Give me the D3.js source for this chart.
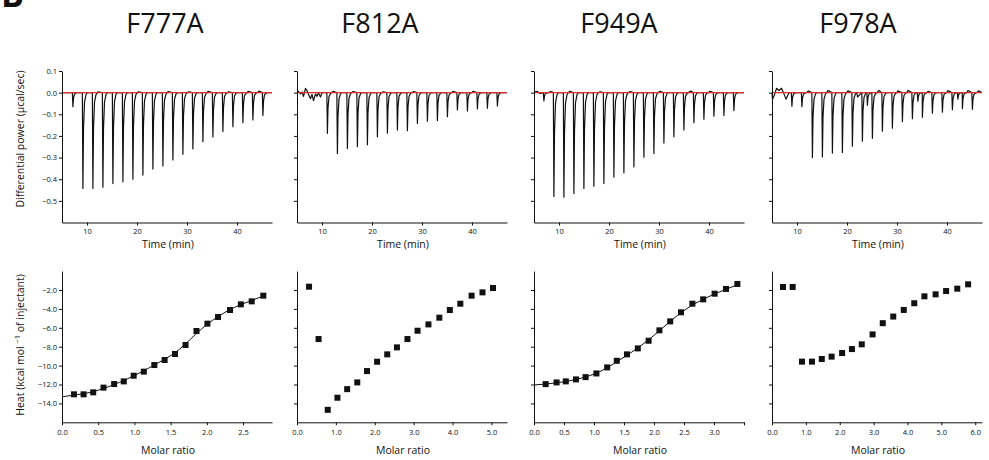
<!DOCTYPE html>
<html>
<head>
<meta charset="utf-8">
<script src="https://cdn.jsdelivr.net/npm/d3@7"></script>
<style>
  body { margin: 0; background: #fff; }
  svg { display: block; }
  text { font-family: 'Open Sans', sans-serif; fill: #111; }
</style>
</head>
<body>
<div id="chart"></div>
<script>
// ---- data ----
const titles = [ 'F777A', 'F812A', 'F949A', 'F978A' ];

const timeTicks = [ 10, 20, 30, 40 ];
const powerTicks = [ 0.1, 0.0, -0.1, -0.2, -0.3, -0.4, -0.5 ];
const heatTicks = [ -2, -4, -6, -8, -10, -12, -14 ];
const ratioTicks = [
  [ 0, 0.5, 1, 1.5, 2, 2.5 ],
  [ 0, 1, 2, 3, 4, 5 ],
  [ 0, 0.5, 1, 1.5, 2, 2.5, 3, 3.5 ],
  [ 0, 1, 2, 3, 4, 5, 6 ]
];
const ratioUnlabeled = [ [], [], [ 3.5 ], [] ];
const ratioMax = [ 2.9, 5.4, 3.5, 6.2 ];

// injection peaks: [time (min), minimum (µcal/sec)]
const peaksF777A = [ [7.1,-0.065],[9.1,-0.443],[11.1,-0.443],[13.1,-0.437],[15.1,-0.420],[17.1,-0.412],
  [19.1,-0.400],[21.1,-0.381],[23.1,-0.353],[25.1,-0.339],[27.1,-0.311],[29.1,-0.285],[31.1,-0.260],
  [33.1,-0.227],[35.1,-0.205],[37.1,-0.179],[39.1,-0.157],[41.1,-0.139],[43.1,-0.126],[45.1,-0.106] ];
const peaksF812A = [ [11,-0.188],[13,-0.281],[15,-0.258],[17,-0.250],[19,-0.241],[21,-0.204],[23,-0.187],
  [25,-0.173],[27,-0.176],[29,-0.142],[31,-0.132],[33,-0.129],[35,-0.111],[37,-0.080],[39,-0.085],
  [41,-0.075],[43,-0.072],[45,-0.062] ];
const peaksF949A = [ [6.9,-0.038],[8.9,-0.480],[10.9,-0.483],[12.9,-0.466],[14.9,-0.443],[16.9,-0.432],
  [18.9,-0.420],[20.9,-0.390],[22.9,-0.370],[24.9,-0.343],[26.9,-0.298],[28.9,-0.281],[30.9,-0.233],
  [32.9,-0.204],[34.9,-0.173],[36.9,-0.139],[38.9,-0.123],[40.9,-0.109],[42.9,-0.105],[44.9,-0.083] ];
const peaksF978A = [ [8.9,-0.063],[10.9,-0.065],[13,-0.300],[15,-0.297],[17,-0.279],[19,-0.277],[21,-0.248],
  [23,-0.224],[24,-0.058],[25,-0.211],[27,-0.178],[29,-0.164],[31,-0.134],[33,-0.120],[34.1,-0.040],
  [35,-0.114],[37,-0.095],[39,-0.090],[41,-0.079],[42.1,-0.030],[43,-0.074],[45,-0.077] ];

// baseline wiggles: [time, value]
const noiseF777A = [ [12.2,0.004],[20.3,0.004],[26.2,0.005],[30.4,0.004],[34.2,0.006],[38.3,0.004],[42.2,0.006],[44.4,0.007] ];
const noiseF812A = [ [5.3,0.006],[5.7,-0.006],[6.0,0.003],[6.3,-0.017],[6.7,0.02],[7.0,0.01],[7.3,-0.008],
  [7.7,-0.028],[8.0,-0.008],[8.3,-0.037],[8.7,-0.006],[9.0,-0.017],[9.3,-0.001],[9.7,-0.02],[10.0,0.0],
  [12.2,0.006],[16.2,0.005],[22.2,0.004],[28.3,0.005],[36.2,0.006],[40.2,0.006] ];
const noiseF949A = [ [5.6,0.006],[6.2,-0.004],[7.8,0.007],[8.4,0.005],[12.2,0.006],[18.3,0.004],[24.2,0.005],[30.2,0.006],[36.4,0.007],[40.2,0.006],[43.8,0.005] ];
const noiseF978A = [ [5.1,-0.03],[5.5,-0.01],[5.9,0.02],[6.4,0.01],[6.9,0.02],[7.3,0.0],[7.8,-0.03],
  [8.1,-0.015],[8.4,0.0],[12.3,0.008],[16.2,0.01],[20.2,0.008],[22.1,-0.02],[26.4,0.01],[30.2,0.008],
  [32.2,0.01],[36.2,0.006],[40.2,0.01],[42.6,0.012],[44.2,0.01],[46.3,0.008] ];

// integrated heats
const ratioF777A = [ 0.165,0.298,0.431,0.573,0.72,0.853,0.99,1.13,1.275,1.417,1.56,1.706,1.857,2.008,2.155,2.32,2.47,2.62,2.78 ];
const heatF777A = [ -13.04,-13.04,-12.83,-12.33,-11.95,-11.67,-11.07,-10.64,-9.94,-9.41,-8.77,-7.82,-6.34,-5.56,-4.86,-4.12,-3.52,-3.2,-2.6 ];
const ratioF812A = [ 0.31,0.555,0.79,1.04,1.29,1.55,1.80,2.06,2.32,2.57,2.84,3.10,3.38,3.66,3.93,4.2,4.49,4.77,5.04 ];
const heatF812A = [ -1.65,-7.19,-14.68,-13.4,-12.49,-11.78,-10.58,-9.59,-8.81,-8.07,-7.19,-6.31,-5.64,-4.93,-4.12,-3.45,-2.6,-2.25,-1.79 ];
const ratioF949A = [ 0.194,0.376,0.53,0.70,0.86,1.04,1.22,1.38,1.55,1.73,1.91,2.09,2.27,2.45,2.64,2.82,3.01,3.20,3.39 ];
const heatF949A = [ -11.96,-11.78,-11.67,-11.46,-11.22,-10.83,-10.19,-9.49,-8.81,-8.18,-7.37,-6.27,-5.32,-4.36,-3.45,-2.99,-2.39,-1.89,-1.36 ];
const ratioF978A = [ 0.325,0.61,0.885,1.18,1.47,1.76,2.07,2.36,2.65,2.97,3.27,3.58,3.89,4.2,4.5,4.83,5.14,5.47,5.79 ];
const heatF978A = [ -1.68,-1.68,-9.58,-9.58,-9.3,-9.05,-8.67,-8.25,-7.75,-6.7,-5.51,-4.81,-4.11,-3.4,-2.67,-2.46,-2.11,-1.86,-1.4 ];

// fitted curves
const fitF777A = [ [0,-13.3],[0.17,-13.12],[0.4,-12.82],[0.6,-12.35],[0.8,-11.75],[1.0,-11.05],[1.2,-10.25],
  [1.4,-9.4],[1.55,-8.7],[1.7,-7.75],[1.85,-6.65],[2.0,-5.65],[2.15,-4.85],[2.3,-4.15],[2.47,-3.55],[2.62,-3.1],[2.78,-2.65] ];
const fitF949A = [ [0,-12.05],[0.2,-11.95],[0.4,-11.8],[0.6,-11.6],[0.8,-11.3],[1.0,-10.9],[1.2,-10.3],[1.4,-9.5],
  [1.6,-8.7],[1.8,-7.8],[2.0,-6.8],[2.2,-5.7],[2.4,-4.65],[2.6,-3.75],[2.8,-3.05],[3.0,-2.45],[3.2,-1.92],[3.39,-1.45] ];

const peaks = [ peaksF777A, peaksF812A, peaksF949A, peaksF978A ];
const noise = [ noiseF777A, noiseF812A, noiseF949A, noiseF978A ];
const ratios = [ ratioF777A, ratioF812A, ratioF949A, ratioF978A ];
const heats = [ heatF777A, heatF812A, heatF949A, heatF978A ];
const fits = [ fitF777A, null, fitF949A, null ];

// ---- layout ----
const width = 989, height = 460;
const panelLeft = [ 62, 297, 534, 772 ];
const panelWidth = 210;
const titleX = [ 165, 380, 619, 858 ];
const topRange = [ 222.5, 71 ];
const bottomRange = [ 422.3, 271.1 ];
const tickStyle = 'font-size:7.5px;';
const labelStyle = 'font-size:10.5px;';
// spike outline relative to an injection: [dt, fraction of depth]
const spikeShape = [ [-0.03,0],[0.08,1],[0.2,0.38],[0.4,0.1],[0.7,0.02],[0.95,0] ];

const svg = d3.select( '#chart' ).append( 'svg' )
  .attr( 'width', width ).attr( 'height', height );

// cut off panel letter at the corner
svg.append( 'text' ).attr( 'x', 1 ).attr( 'y', 7 )
  .attr( 'style', 'font-size:34px; font-weight:bold;' ).text( 'B' );

const yPower = d3.scaleLinear().domain( [ -0.6, 0.1 ] ).range( topRange );
const yHeat = d3.scaleLinear().domain( [ -16, 0 ] ).range( bottomRange );

function styleAxis( g ) {
  g.selectAll( 'path, line' ).attr( 'stroke', '#111' ).attr( 'stroke-width', 1 );
  g.selectAll( 'text' ).attr( 'style', tickStyle ).attr( 'fill', '#111' );
}

titles.forEach( function( title, i ) {
  const left = panelLeft[ i ];
  const g = svg.append( 'g' ).attr( 'transform', 'translate(' + left + ',0)' );

  g.append( 'text' )
    .attr( 'x', titleX[ i ] - left ).attr( 'y', 33 )
    .attr( 'text-anchor', 'middle' )
    .attr( 'style', 'font-size:27px;' )
    .text( title );

  // ---- thermogram ----
  const xTime = d3.scaleLinear().domain( [ 5, 47 ] ).range( [ 0, panelWidth ] );

  let pts = [ [ 5, 0 ], [ 47, 0 ] ];
  peaks[ i ].forEach( function( p ) {
    spikeShape.forEach( function( s ) { pts.push( [ p[0] + s[0], p[1] * s[1] ] ); } );
  } );
  noise[ i ].forEach( function( n ) {
    const inSpike = peaks[ i ].some( function( p ) { return n[0] > p[0] - 0.1 && n[0] < p[0] + 1.0; } );
    if ( !inSpike ) pts.push( n );
  } );
  pts.sort( function( a, b ) { return a[0] - b[0]; } );

  g.append( 'path' )
    .datum( pts )
    .attr( 'fill', 'none' )
    .attr( 'stroke', '#111' )
    .attr( 'stroke-width', 1.2 )
    .attr( 'stroke-linejoin', 'round' )
    .attr( 'd', d3.line().x( d => xTime( d[0] ) ).y( d => yPower( d[1] ) ) );

  g.append( 'line' )
    .attr( 'x1', xTime( 5 ) ).attr( 'x2', xTime( 47 ) )
    .attr( 'y1', yPower( 0 ) ).attr( 'y2', yPower( 0 ) )
    .attr( 'stroke', '#dc2f2a' ).attr( 'stroke-width', 1.3 );

  g.append( 'g' )
    .attr( 'transform', 'translate(0,' + topRange[0] + ')' )
    .call( d3.axisBottom( xTime ).tickValues( timeTicks ).tickSize( 3 ).tickSizeOuter( 0 ).tickPadding( 3 ) )
    .call( styleAxis );
  const yAxisTop = g.append( 'g' )
    .call( d3.axisLeft( yPower ).tickValues( powerTicks ).tickSize( 3 ).tickSizeOuter( 0 ).tickPadding( 2 )
      .tickFormat( d3.format( '.1f' ) ) )
    .call( styleAxis );
  if ( i > 0 ) yAxisTop.selectAll( 'text' ).remove();

  g.append( 'text' )
    .attr( 'x', panelWidth / 2 + 1 ).attr( 'y', 248 )
    .attr( 'text-anchor', 'middle' ).attr( 'style', labelStyle )
    .text( 'Time (min)' );

  // ---- integrated heats ----
  const xRatio = d3.scaleLinear().domain( [ 0, ratioMax[ i ] ] ).range( [ 0, panelWidth ] );

  if ( fits[ i ] ) {
    g.append( 'path' )
      .datum( fits[ i ] )
      .attr( 'fill', 'none' ).attr( 'stroke', '#111' ).attr( 'stroke-width', 1 )
      .attr( 'd', d3.line().curve( d3.curveMonotoneX ).x( d => xRatio( d[0] ) ).y( d => yHeat( d[1] ) ) );
  }

  const sq = 6;
  g.selectAll( 'rect.pt' )
    .data( d3.zip( ratios[ i ], heats[ i ] ) )
    .enter().append( 'rect' )
      .attr( 'class', 'pt' )
      .attr( 'x', d => xRatio( d[0] ) - sq / 2 )
      .attr( 'y', d => yHeat( d[1] ) - sq / 2 )
      .attr( 'width', sq ).attr( 'height', sq )
      .attr( 'fill', '#111' );

  const unl = ratioUnlabeled[ i ];
  g.append( 'g' )
    .attr( 'transform', 'translate(0,' + bottomRange[0] + ')' )
    .call( d3.axisBottom( xRatio ).tickValues( ratioTicks[ i ] ).tickSize( 3 ).tickSizeOuter( 0 ).tickPadding( 4 )
      .tickFormat( d => unl.indexOf( d ) >= 0 ? '' : d3.format( '.1f' )( d ) ) )
    .call( styleAxis );
  const yAxisBottom = g.append( 'g' )
    .call( d3.axisLeft( yHeat ).tickValues( heatTicks ).tickSize( 3 ).tickSizeOuter( 0 ).tickPadding( 2 )
      .tickFormat( d3.format( '.1f' ) ) )
    .call( styleAxis );
  if ( i > 0 ) yAxisBottom.selectAll( 'text' ).remove();

  g.append( 'text' )
    .attr( 'x', panelWidth / 2 + 1 ).attr( 'y', 454 )
    .attr( 'text-anchor', 'middle' ).attr( 'style', labelStyle )
    .text( 'Molar ratio' );
} );

// y axis titles
svg.append( 'text' )
  .attr( 'transform', 'translate(24,139) rotate(-90)' )
  .attr( 'text-anchor', 'middle' ).attr( 'style', labelStyle )
  .text( 'Differential power (μcal/sec)' );

const heatLabel = svg.append( 'text' )
  .attr( 'transform', 'translate(24,345) rotate(-90)' )
  .attr( 'text-anchor', 'middle' ).attr( 'style', labelStyle );
heatLabel.append( 'tspan' ).text( 'Heat (kcal mol ' );
heatLabel.append( 'tspan' ).attr( 'dy', -4 ).attr( 'style', 'font-size:7.5px;' ).text( '−1' );
heatLabel.append( 'tspan' ).attr( 'dy', 4 ).text( ' of injectant)' );
</script>
</body>
</html>
